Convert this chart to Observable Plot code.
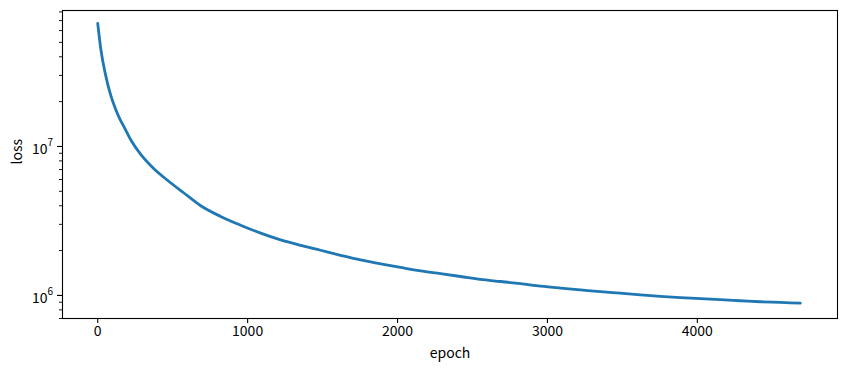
<!DOCTYPE html>
<html><head><meta charset="utf-8">
<script src="https://cdn.jsdelivr.net/npm/d3@7"></script>
<script src="https://cdn.jsdelivr.net/npm/@observablehq/plot@0.6"></script>
<style>body{margin:0;background:#fff}</style>
</head><body><div id="chart"></div>
<script>
const epochs = [0, 7, 20, 53, 87, 120, 153, 173, 220, 287, 373, 467, 573, 687, 820, 953, 1087, 1220, 1353, 1487, 1620, 1753, 1887, 2020, 2153, 2287, 2420, 2553, 2687, 2820, 2953, 3087, 3220, 3353, 3487, 3620, 3753, 3887, 4020, 4153, 4287, 4420, 4553, 4687];
const losses = [6.7e7, 5.8e7, 4.55e7, 3.0e7, 2.2e7, 1.77e7, 1.49e7, 1.37e7, 1.11e7, 8.84e6, 7.11e6, 5.91e6, 4.89e6, 4.0e6, 3.39e6, 2.96e6, 2.62e6, 2.36e6, 2.17e6, 2.01e6, 1.86e6, 1.73e6, 1.63e6, 1.54e6, 1.46e6, 1.40e6, 1.34e6, 1.28e6, 1.24e6, 1.20e6, 1.155e6, 1.12e6, 1.09e6, 1.06e6, 1.035e6, 1.01e6, 9.85e5, 9.66e5, 9.51e5, 9.36e5, 9.21e5, 9.07e5, 8.97e5, 8.87e5];
const xTicks = [0, 1000, 2000, 3000, 4000];
const yMajor = [1e6, 1e7];
const yMajorBase = ["10", "10"];
const yMajorExp = ["6", "7"];
const yMinor = [7e5, 8e5, 9e5, 2e6, 3e6, 4e6, 5e6, 6e6, 7e6, 8e6, 9e6, 2e7, 3e7, 4e7, 5e7, 6e7, 7e7, 8e7];
const xLabel = "epoch";
const yLabel = "loss";

const data = epochs.map((e, i) => ({epoch: e, loss: losses[i]}));
const majors = yMajor.map((v, i) => ({v, base: yMajorBase[i], exp: yMajorExp[i]}));

const chart = Plot.plot({
  width: 846, height: 371,
  marginLeft: 62, marginRight: 9, marginTop: 10, marginBottom: 53,
  style: {fontFamily: "'Noto Sans CJK SC', sans-serif", fontSize: "14px", color: "#000", background: "#fff"},
  x: {domain: [-235, 4935]},
  y: {type: "log", domain: [7.0e5, 8.18e7]},
  marks: [
    Plot.line(data, {x: "epoch", y: "loss", stroke: "#1f77b4", strokeWidth: 2.8, strokeLinejoin: "round", curve: "monotone-x"}),
    Plot.frame({stroke: "#000", strokeWidth: 1.1}),
    Plot.axisX({ticks: xTicks, tickSize: 5, tickPadding: 3, tickFormat: d => String(d), label: null, strokeWidth: 1.1, fontSize: 14}),
    Plot.axisY({ticks: yMajor, tickSize: 5, fill: "none", label: null, strokeWidth: 1.1}),
    Plot.axisY({ticks: yMinor, tickSize: 3, fill: "none", label: null, strokeWidth: 0.9}),
    Plot.text(majors, {y: "v", text: "base", frameAnchor: "left", dx: -15, dy: 3, textAnchor: "end", lineAnchor: "middle", fontSize: 14}),
    Plot.text(majors, {y: "v", text: "exp", frameAnchor: "left", dx: -15, dy: -4, textAnchor: "start", lineAnchor: "middle", fontSize: 10}),
    Plot.text([xLabel], {text: d => d, frameAnchor: "bottom", dy: 35, lineAnchor: "middle", fontSize: 14}),
    Plot.text([yLabel], {text: d => d, frameAnchor: "left", dx: -45, rotate: -90, lineAnchor: "middle", fontSize: 14})
  ]
});
document.getElementById("chart").appendChild(chart);
</script>
</body></html>
